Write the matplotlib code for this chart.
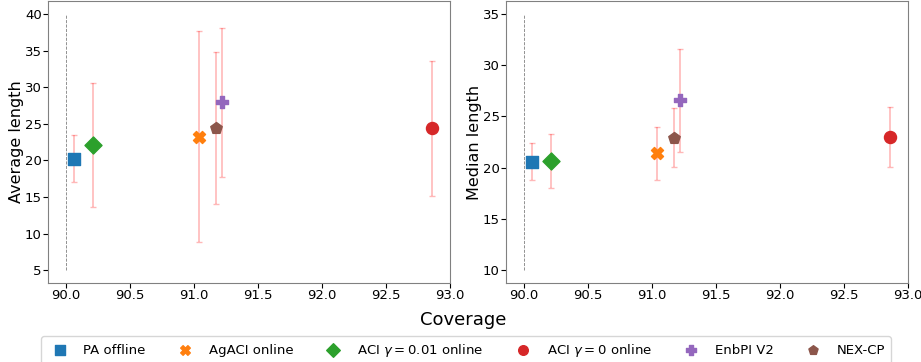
import matplotlib
matplotlib.use("Agg")
import matplotlib.pyplot as plt
import numpy as np

methods = ["PA offline", "AgACI online", r"ACI $\gamma=0.01$ online",
           r"ACI $\gamma=0$ online", "EnbPI V2", "NEX-CP"]
markers = ["s", "X", "D", "o", "P", "p"]
colors = ["tab:blue", "tab:orange", "tab:green", "tab:red", "tab:purple", "tab:brown"]

coverage = [90.06, 91.04, 90.21, 92.86, 91.22, 91.17]

avg_len = [20.2, 23.2, 22.1, 24.4, 28.0, 24.4]
avg_low = [17.0, 8.8, 13.6, 15.2, 17.8, 14.0]
avg_high = [23.4, 37.7, 30.6, 33.6, 38.1, 34.8]

med_len = [20.6, 21.4, 20.7, 23.0, 26.6, 22.9]
med_low = [18.8, 18.8, 18.0, 20.1, 21.5, 20.1]
med_high = [22.4, 24.0, 23.3, 25.9, 31.6, 25.8]

target = 90.0


def panel(ax, y, lo, hi, ymin, ymax, ylabel):
    ax.vlines(target, ymin, ymax, colors="gray", linestyles="--", lw=0.6)
    for i in range(len(methods)):
        err = [[y[i] - lo[i]], [hi[i] - y[i]]]
        ax.errorbar(coverage[i], y[i], yerr=err, fmt="none", ecolor="red",
                    alpha=0.28, capsize=2, elinewidth=1.2)
        ax.scatter(coverage[i], y[i], marker=markers[i], color=colors[i],
                   s=75, label=methods[i], zorder=3)
    ax.set_ylabel(ylabel, fontsize=11.5, labelpad=0.5)
    ax.tick_params(labelsize=9.5, pad=1)
    for s in ax.spines.values():
        s.set_color("gray")
    ax.set_xticks(np.arange(90.0, 93.01, 0.5))
    ax.set_xlim(89.857, 93.003)


fig, axes = plt.subplots(1, 2, figsize=(9.21, 3.62), dpi=100)
fig.subplots_adjust(left=0.052, right=0.986, top=0.997, bottom=0.218, wspace=0.139)

panel(axes[0], avg_len, avg_low, avg_high, 5, 40, "Average length")
axes[0].set_yticks(np.arange(5, 41, 5))
panel(axes[1], med_len, med_low, med_high, 10, 35, "Median length")
axes[1].set_yticks(np.arange(10, 36, 5))

fig.text(0.503, 0.116, "Coverage", ha="center", va="center", fontsize=13)
handles, labels = axes[0].get_legend_handles_labels()
fig.legend(handles, labels, loc="center", bbox_to_anchor=(0.506, 0.033),
           ncol=6, fontsize=9.5, markerscale=0.8)

fig.savefig("out.png", dpi=100)
